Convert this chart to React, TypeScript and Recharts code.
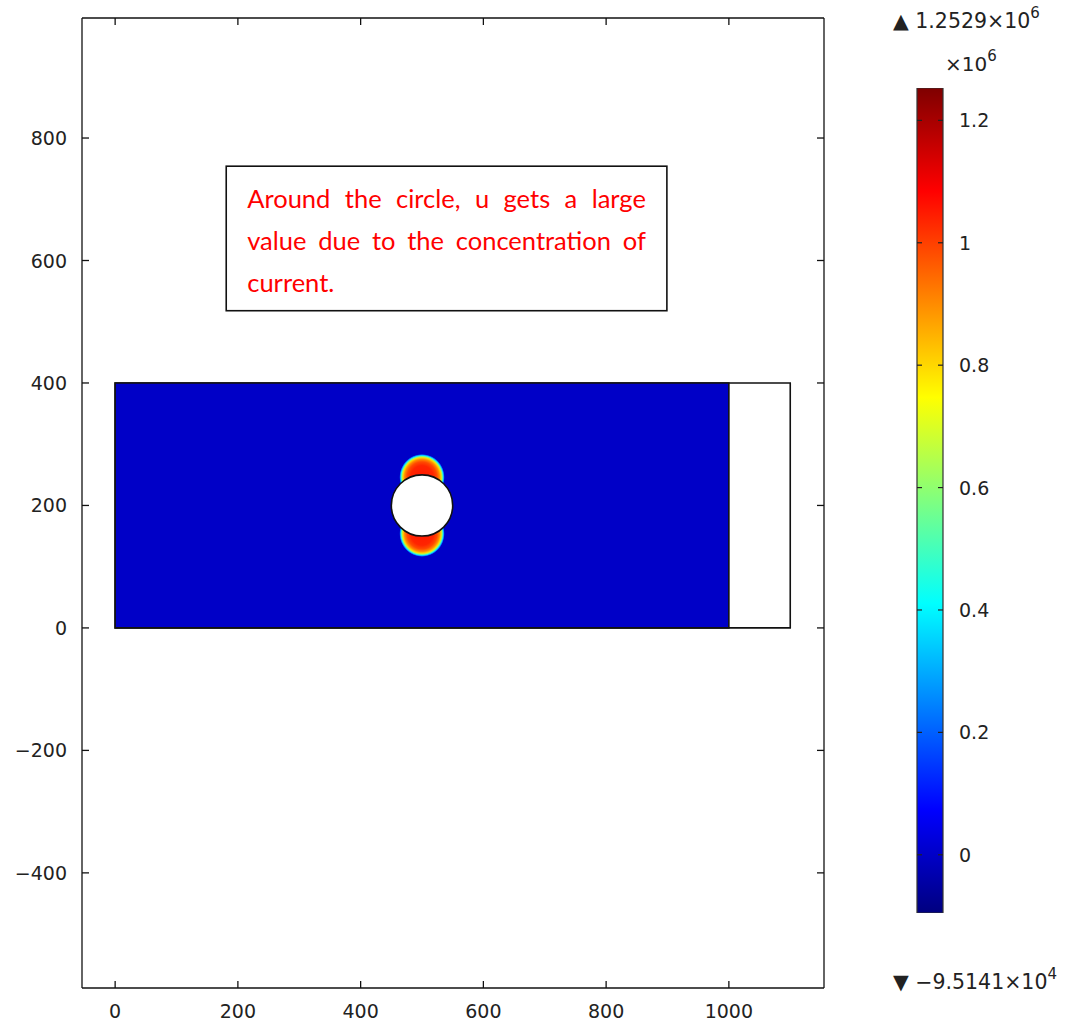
import React from 'react';
import { ComposedChart, XAxis, YAxis, ReferenceArea, Bar, Scatter } from 'recharts';

// ---- data ----
const xTicks = [0, 200, 400, 600, 800, 1000];
const yTicks = [-400, -200, 0, 200, 400, 600, 800];
const xDomain = [-54, 1155];
const yDomain = [-588, 996];

const geometryRect = { x1: 0, x2: 1100, y1: 0, y2: 400 };
const solvedRegion = { x1: 0, x2: 1000, y1: 0, y2: 400 };
const hotSpots = [
  { cx: 500, cy: 246, rx: 37, ry: 38 },
  { cx: 500, cy: 154, rx: 37, ry: 38 },
];
const hole = { cx: 500, cy: 200, r: 50 };
const holeCenter = [{ x: 500, y: 200 }];
const noteBox = { x1: 181, x2: 899, y1: 518, y2: 754 };
const noteLines = [
  'Around the circle, u gets a large',
  'value due to the concentration of',
  'current.',
];

const colorMin = -0.095141; // x10^6
const colorMax = 1.2529; // x10^6
const colorbarTicks = [0, 0.2, 0.4, 0.6, 0.8, 1, 1.2];
const colorbarData = [{ name: 'u', range: [colorMin, colorMax] }];
const jetStops = [
  { offset: 0, color: '#7F0000' },
  { offset: 0.125, color: '#FF0000' },
  { offset: 0.375, color: '#FFFF00' },
  { offset: 0.625, color: '#00FFFF' },
  { offset: 0.875, color: '#0000FF' },
  { offset: 1, color: '#00007F' },
];
const backgroundColor = '#0000C7';
const hotStops = [
  { offset: 0, color: '#FF1800' },
  { offset: 0.5, color: '#FF2400' },
  { offset: 0.66, color: '#FF4A00' },
  { offset: 0.77, color: '#FF8C00' },
  { offset: 0.84, color: '#FFD800' },
  { offset: 0.89, color: '#90FF70' },
  { offset: 0.93, color: '#10E8FF' },
  { offset: 0.965, color: '#0070FF' },
  { offset: 1, color: backgroundColor },
];

const FONT = '"DejaVu Sans", sans-serif';
const TXT = '#222';
const fmt = (v: number) => (v < 0 ? '\u2212' + Math.abs(v) : String(v));
const fmtCb = (v: number) => String(Math.round(v * 10) / 10);

// ---- tick renderers ----
const BottomTick = (p: any) => (
  <g>
    <line x1={p.x} x2={p.x} y1={p.y} y2={p.y - 7} stroke="#111" strokeWidth={1.3} />
    <text x={p.x} y={p.y + 30} textAnchor="middle" fontFamily={FONT} fontSize={19} fill={TXT}>
      {fmt(p.payload.value)}
    </text>
  </g>
);
const TopTick = (p: any) => (
  <line x1={p.x} x2={p.x} y1={p.y} y2={p.y + 7} stroke="#111" strokeWidth={1.3} />
);
const LeftTick = (p: any) => (
  <g>
    <line x1={p.x} x2={p.x + 7} y1={p.y} y2={p.y} stroke="#111" strokeWidth={1.3} />
    <text x={p.x - 15} y={p.y + 7} textAnchor="end" fontFamily={FONT} fontSize={19} fill={TXT}>
      {fmt(p.payload.value)}
    </text>
  </g>
);
const RightTick = (p: any) => (
  <line x1={p.x} x2={p.x - 7} y1={p.y} y2={p.y} stroke="#111" strokeWidth={1.3} />
);
const CbTick = (p: any) => (
  <g>
    <line x1={p.x} x2={p.x - 5} y1={p.y} y2={p.y} stroke="#222" strokeWidth={1.2} />
    <line x1={p.x - 26} x2={p.x - 21} y1={p.y} y2={p.y} stroke="#222" strokeWidth={1.2} />
    <text x={p.x + 16} y={p.y + 7} textAnchor="start" fontFamily={FONT} fontSize={19} fill={TXT}>
      {fmtCb(p.payload.value)}
    </text>
  </g>
);

// ---- shapes ----
const HotShape = (p: any) => (
  <ellipse
    cx={p.x + p.width / 2}
    cy={p.y + p.height / 2}
    rx={p.width / 2}
    ry={p.height / 2}
    fill="url(#hotGrad)"
  />
);
const HoleShape = (p: any) => (
  <ellipse
    cx={p.x + p.width / 2}
    cy={p.y + p.height / 2}
    rx={p.width / 2}
    ry={p.height / 2}
    fill="#fff"
    stroke="#111"
    strokeWidth={1.6}
  />
);
const NoteShape = (p: any) => (
  <g>
    <rect x={p.x} y={p.y} width={p.width} height={p.height} fill="#fff" stroke="#111" strokeWidth={1.6} />
    <foreignObject x={p.x} y={p.y} width={p.width} height={p.height}>
      <div
        style={{
          paddingTop: 11,
          paddingLeft: 21,
          paddingRight: 21,
          fontFamily: 'Lato, "Open Sans", sans-serif',
          fontSize: 25.5,
          color: '#FF0000',
          lineHeight: '42px',
        }}
      >
        {noteLines.map((l, i) => (
          <div
            key={i}
            style={{
              whiteSpace: 'nowrap',
              textAlign: i < noteLines.length - 1 ? 'justify' : 'left',
              textAlignLast: i < noteLines.length - 1 ? 'justify' : 'left',
            }}
          >
            {l}
          </div>
        ))}
      </div>
    </foreignObject>
  </g>
);
const NoDot = () => <g />;

export default function App() {
  return (
    <div style={{ position: 'absolute', left: 0, top: 0, width: 1065, height: 1023, background: '#fff' }}>
      <svg width={0} height={0} style={{ position: 'absolute' }}>
        <defs>
          <linearGradient id="jetGrad" x1="0" y1="0" x2="0" y2="1">
            {jetStops.map((s, i) => (
              <stop key={i} offset={s.offset} stopColor={s.color} />
            ))}
          </linearGradient>
          <radialGradient id="hotGrad" cx="0.5" cy="0.5" r="0.5">
            {hotStops.map((s, i) => (
              <stop key={i} offset={s.offset} stopColor={s.color} />
            ))}
          </radialGradient>
        </defs>
      </svg>

      <div style={{ position: 'absolute', left: 0, top: 0 }}>
        <ComposedChart width={1065} height={1023} data={holeCenter} margin={{ left: 81, right: 240, top: 17, bottom: 34 }}>
          <XAxis
            xAxisId={0}
            dataKey="x"
            type="number"
            domain={xDomain}
            ticks={xTicks}
            allowDataOverflow
            height={1}
            tickSize={0}
            tickMargin={0}
            axisLine={{ stroke: '#111', strokeWidth: 1.3 }}
            tickLine={false}
            tick={<BottomTick />}
            interval={0}
          />
          <XAxis
            xAxisId="top"
            dataKey="x"
            orientation="top"
            type="number"
            domain={xDomain}
            ticks={xTicks}
            allowDataOverflow
            height={1}
            tickSize={0}
            tickMargin={0}
            axisLine={{ stroke: '#111', strokeWidth: 1.3 }}
            tickLine={false}
            tick={<TopTick />}
            interval={0}
          />
          <YAxis
            yAxisId={0}
            dataKey="y"
            type="number"
            domain={yDomain}
            ticks={yTicks}
            allowDataOverflow
            width={1}
            tickSize={0}
            tickMargin={0}
            axisLine={{ stroke: '#111', strokeWidth: 1.3 }}
            tickLine={false}
            tick={<LeftTick />}
            interval={0}
          />
          <YAxis
            yAxisId="right"
            dataKey="y"
            orientation="right"
            type="number"
            domain={yDomain}
            ticks={yTicks}
            allowDataOverflow
            width={1}
            tickSize={0}
            tickMargin={0}
            axisLine={{ stroke: '#111', strokeWidth: 1.3 }}
            tickLine={false}
            tick={<RightTick />}
            interval={0}
          />
          <ReferenceArea
            x1={geometryRect.x1}
            x2={geometryRect.x2}
            y1={geometryRect.y1}
            y2={geometryRect.y2}
            fill="#fff"
            fillOpacity={1}
            stroke="#111"
            strokeWidth={1.6}
            ifOverflow="visible"
          />
          <ReferenceArea
            x1={solvedRegion.x1}
            x2={solvedRegion.x2}
            y1={solvedRegion.y1}
            y2={solvedRegion.y2}
            fill={backgroundColor}
            fillOpacity={1}
            stroke="#111"
            strokeWidth={1.6}
            ifOverflow="visible"
          />
          {hotSpots.map((h, i) => (
            <ReferenceArea
              key={i}
              x1={h.cx - h.rx}
              x2={h.cx + h.rx}
              y1={h.cy - h.ry}
              y2={h.cy + h.ry}
              shape={<HotShape />}
              ifOverflow="visible"
            />
          ))}
          <ReferenceArea
            x1={hole.cx - hole.r}
            x2={hole.cx + hole.r}
            y1={hole.cy - hole.r}
            y2={hole.cy + hole.r}
            shape={<HoleShape />}
            ifOverflow="visible"
          />
          <ReferenceArea
            x1={noteBox.x1}
            x2={noteBox.x2}
            y1={noteBox.y1}
            y2={noteBox.y2}
            shape={<NoteShape />}
            ifOverflow="visible"
          />
          <Scatter dataKey="y" shape={<NoDot />} isAnimationActive={false} />
          <Scatter dataKey="y" xAxisId="top" yAxisId="right" shape={<NoDot />} isAnimationActive={false} />
        </ComposedChart>
      </div>

      <div style={{ position: 'absolute', left: 900, top: 0 }}>
        <ComposedChart
          width={165}
          height={1023}
          data={colorbarData}
          margin={{ left: 17, right: 121, top: 88, bottom: 110 }}
          barCategoryGap={0}
          barGap={0}
        >
          <XAxis dataKey="name" type="category" hide />
          <YAxis
            orientation="right"
            type="number"
            domain={[colorMin, colorMax]}
            ticks={colorbarTicks}
            allowDataOverflow
            width={1}
            tickSize={0}
            tickMargin={0}
            axisLine={false}
            tickLine={false}
            tick={<CbTick />}
            interval={0}
          />
          <Bar dataKey="range" fill="url(#jetGrad)" stroke="#333" strokeWidth={1.2} isAnimationActive={false} />
        </ComposedChart>
      </div>

      <svg width={1065} height={1023} style={{ position: 'absolute', left: 0, top: 0, pointerEvents: 'none' }}>
        <text x={893} y={28} fontFamily={FONT} fontSize={20.5} fill={TXT}>
          {'\u25B2 1.2529\u00D710'}
          <tspan dy={-10} fontSize={15}>6</tspan>
        </text>
        <text x={945} y={71} fontFamily={FONT} fontSize={20} fill={TXT}>
          {'\u00D710'}
          <tspan dy={-10} fontSize={15}>6</tspan>
        </text>
        <text x={893} y={989} fontFamily={FONT} fontSize={20.5} fill={TXT}>
          {'\u25BC \u22129.5141\u00D710'}
          <tspan dy={-10} fontSize={15}>4</tspan>
        </text>
      </svg>
    </div>
  );
}
